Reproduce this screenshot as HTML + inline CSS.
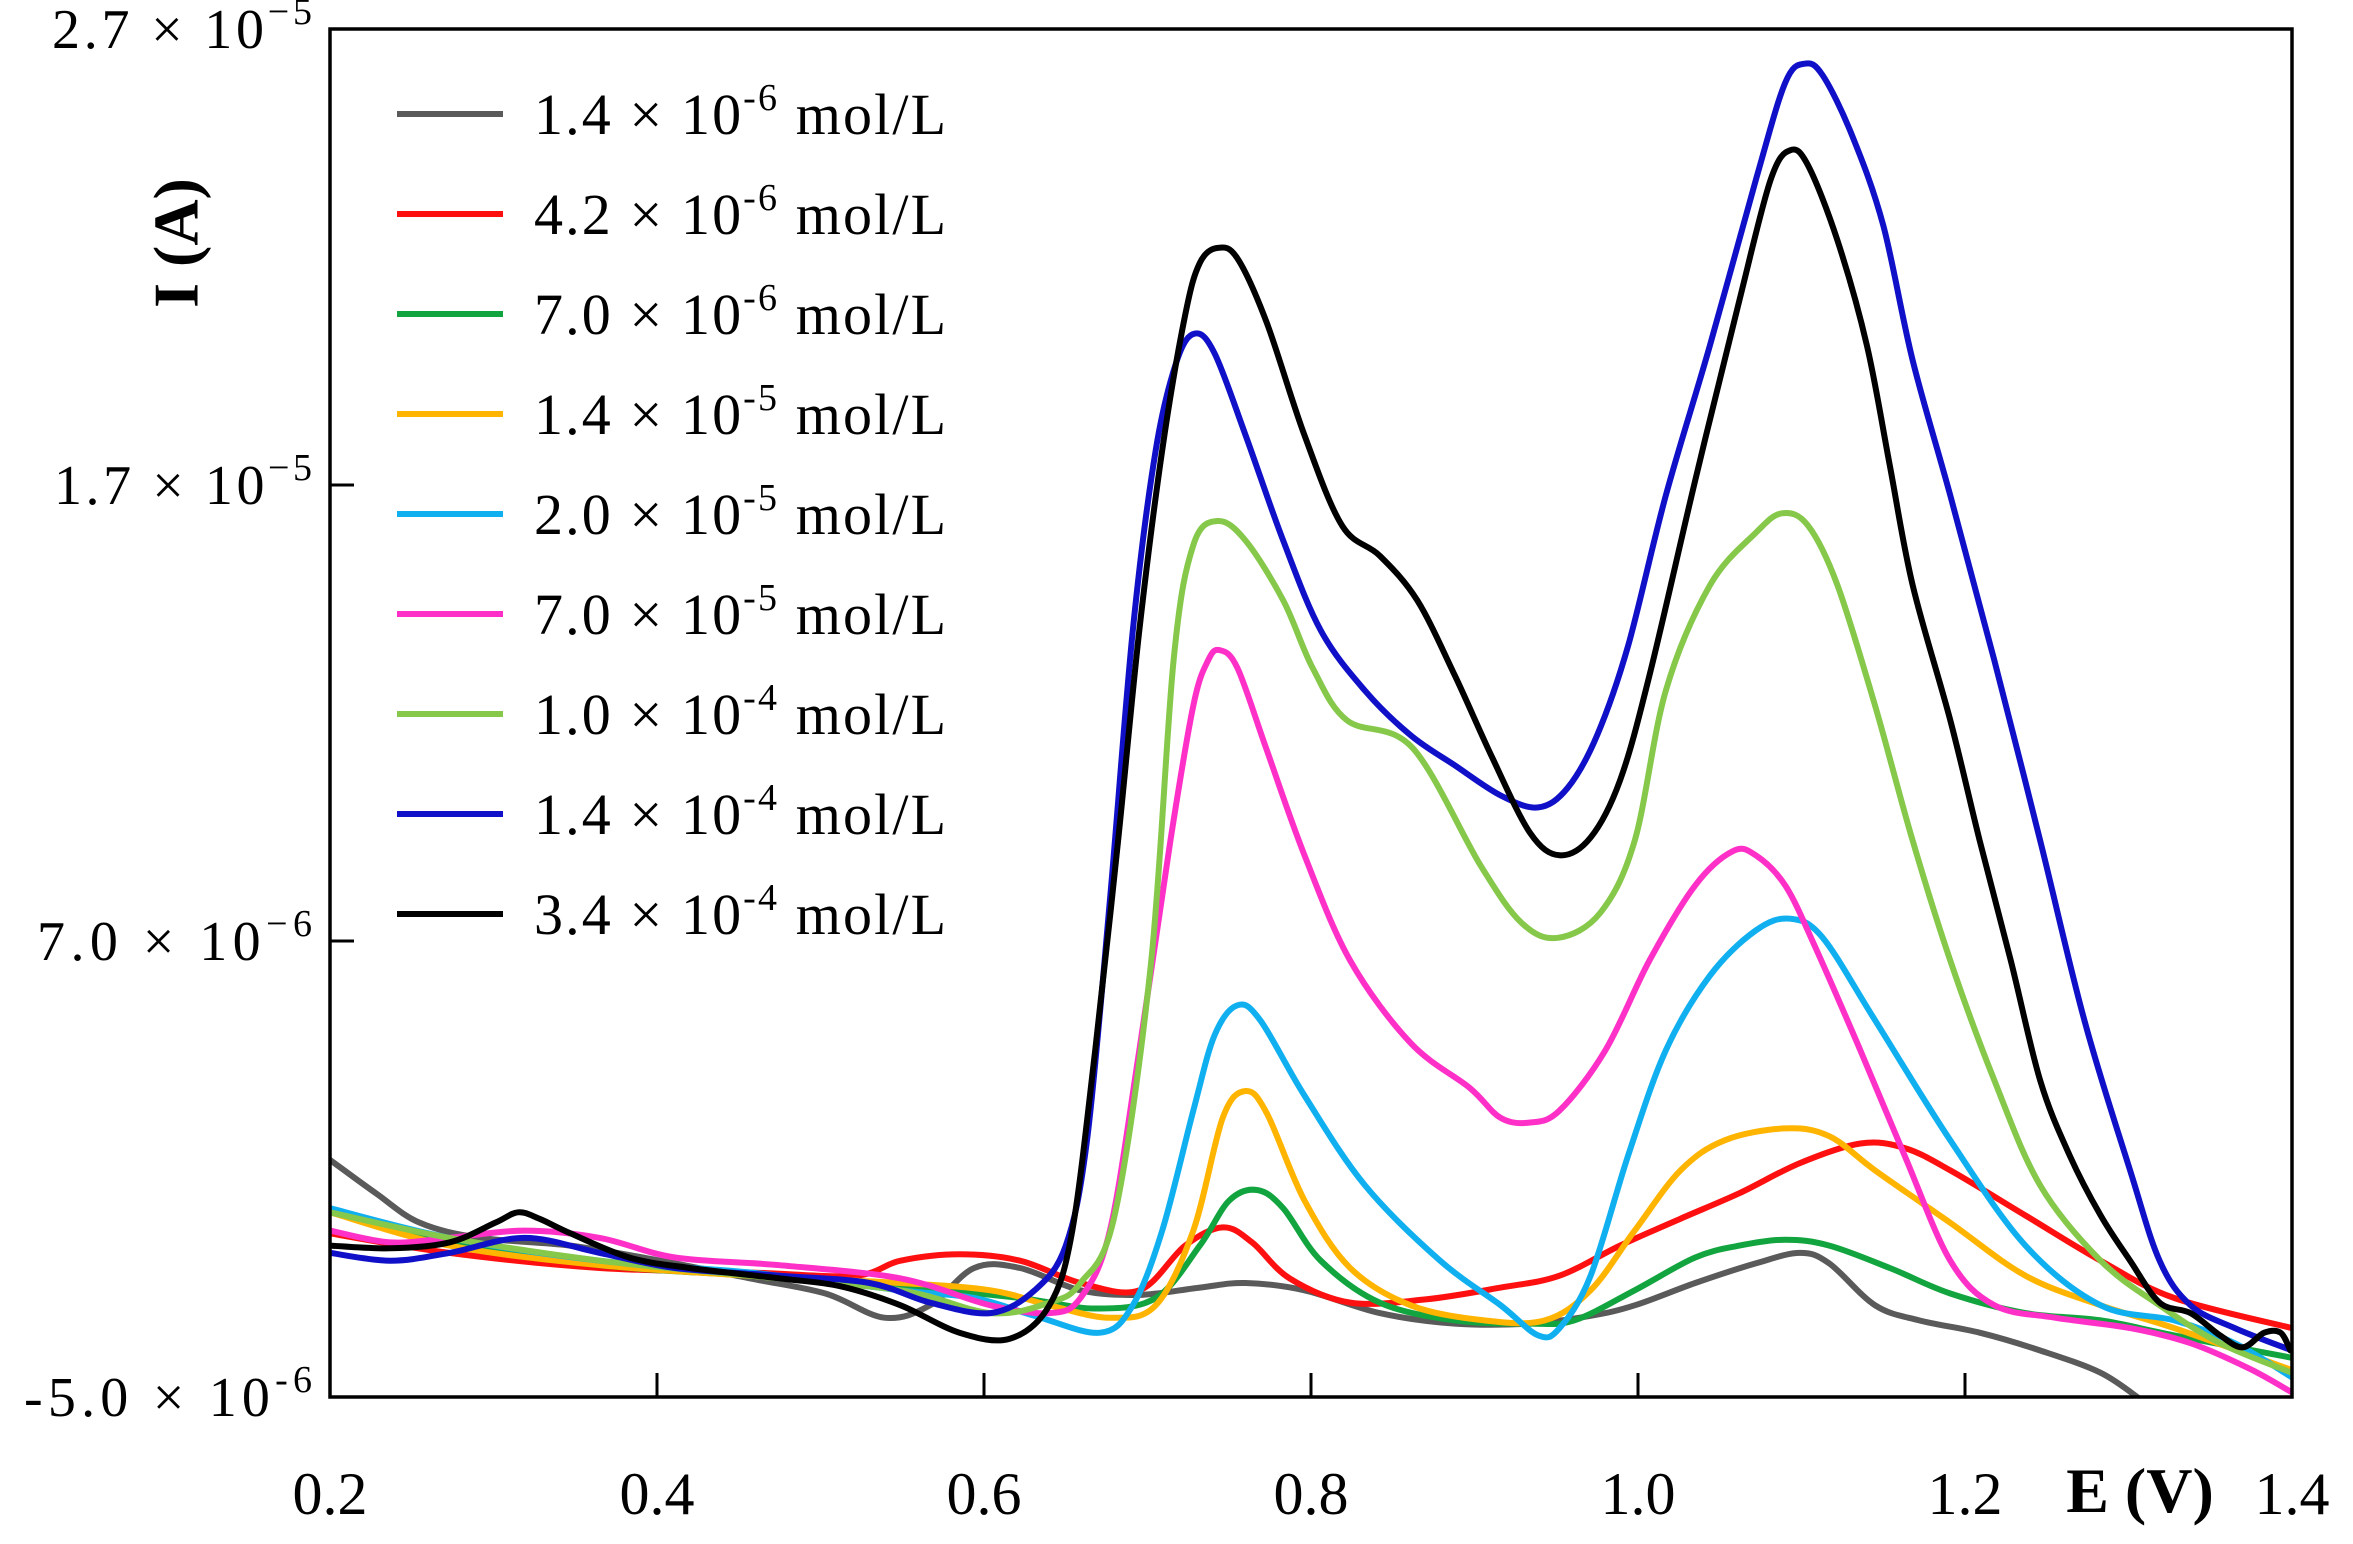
<!DOCTYPE html>
<html><head><meta charset="utf-8"><style>
html,body{margin:0;padding:0;background:#fff;}
svg{display:block;font-family:"Liberation Serif",serif;}
</style></head><body>
<svg id="chart" width="2353" height="1544" viewBox="0 0 2353 1544">
<defs><clipPath id="plotclip"><rect x="330" y="29" width="1962" height="1368"/></clipPath></defs>
<g id="series" clip-path="url(#plotclip)"></g>
<rect x="330" y="29" width="1962" height="1368" fill="none" stroke="#000" stroke-width="3.5"/>
<g id="axes"></g>
<text x="183" y="243" transform="rotate(-90 183 243)" text-anchor="middle" dominant-baseline="middle" font-size="64" font-weight="bold">I (A)</text>
<text x="2140" y="1512" text-anchor="middle" font-size="64" font-weight="bold">E (V)</text>
<g id="legend"></g>
</svg>
<script>
const xTicks = [0.2, 0.4, 0.6, 0.8, 1.0, 1.2, 1.4];
const xTickLabels = ["0.2", "0.4", "0.6", "0.8", "1.0", "1.2", "1.4"];
const yTicks = [27, 17, 7, -3];
const yTickMant = ["2.7", "1.7", "7.0", "-5.0"];
const yTickExp = ["\u22125", "\u22125", "\u22126", "-6"];
const seriesNames = ["1.4e-6", "4.2e-6", "7.0e-6", "1.4e-5", "2.0e-5", "7.0e-5", "1.0e-4", "1.4e-4", "3.4e-4"];
const legendMant = ["1.4", "4.2", "7.0", "1.4", "2.0", "7.0", "1.0", "1.4", "3.4"];
const legendExp = ["-6", "-6", "-6", "-5", "-5", "-5", "-4", "-4", "-4"];
const seriesColors = ["#5a5a5a", "#ff1010", "#12a43e", "#ffb400", "#10b0f0", "#ff30c8", "#86c84a", "#1010c8", "#000000"];

const grayE = [.200,.228,.255,.292,.347,.402,.457,.503,.539,.567,.594,.622,.659,.695,.732,.760,.796,.842,.888,.934,.971,.998,1.035,1.072,1.099,1.117,1.145,1.172,1.209,1.246,1.283,1.308];
const grayI = [2.20,1.47,0.82,0.49,0.32,-0.01,-0.40,-0.73,-1.26,-0.99,-0.17,-0.17,-0.66,-0.76,-0.60,-0.50,-0.66,-1.16,-1.39,-1.39,-1.22,-0.99,-0.50,-0.07,0.16,-0.07,-0.99,-1.32,-1.59,-1.98,-2.47,-3.07];
const redE = [.200,.273,.365,.457,.521,.549,.585,.622,.659,.695,.723,.746,.764,.787,.824,.870,.916,.952,.989,1.026,1.062,1.099,1.136,1.163,1.191,1.237,1.283,1.328,1.400];
const redI = [0.59,0.16,-0.17,-0.27,-0.34,-0.01,0.13,-0.01,-0.50,-0.66,0.32,0.72,0.39,-0.40,-0.93,-0.86,-0.60,-0.34,0.32,0.91,1.47,2.13,2.56,2.46,1.97,0.98,-0.01,-0.83,-1.49];
const dgreenE = [.200,.273,.365,.457,.549,.622,.668,.705,.732,.750,.767,.783,.806,.842,.888,.934,.961,.998,1.035,1.062,1.090,1.117,1.154,1.191,1.237,1.283,1.328,1.400];
const dgreenI = [1.05,0.39,-0.11,-0.34,-0.57,-0.83,-1.06,-0.83,0.32,1.31,1.54,1.14,-0.01,-0.93,-1.32,-1.39,-1.32,-0.66,0.06,0.32,0.45,0.32,-0.17,-0.73,-1.16,-1.32,-1.65,-2.14];
const orangeE = [.200,.273,.365,.457,.549,.604,.640,.677,.705,.728,.746,.760,.773,.796,.824,.861,.906,.943,.971,.998,1.026,1.053,1.090,1.117,1.145,1.191,1.237,1.283,1.328,1.400];
const orangeI = [1.05,0.32,-0.11,-0.34,-0.50,-0.66,-0.99,-1.26,-0.99,0.65,3.12,3.71,3.22,1.31,-0.17,-0.99,-1.32,-1.32,-0.66,0.65,1.97,2.63,2.89,2.72,1.97,0.82,-0.34,-0.99,-1.49,-2.41];
const skyE = [.200,.273,.365,.457,.549,.594,.631,.671,.691,.709,.728,.741,.755,.769,.796,.833,.879,.916,.939,.952,.971,.994,1.017,1.044,1.072,1.093,1.113,1.145,1.191,1.237,1.283,1.328,1.365,1.400];
const skyI = [1.14,0.49,-0.01,-0.27,-0.66,-0.83,-1.22,-1.59,-0.99,0.65,3.28,4.93,5.59,5.26,3.61,1.64,-0.01,-0.99,-1.65,-1.49,-0.34,2.30,4.60,6.24,7.23,7.49,7.07,5.26,2.63,0.32,-0.99,-1.32,-1.82,-2.57];
const magentaE = [.200,.237,.273,.319,.365,.411,.475,.549,.604,.640,.659,.677,.695,.714,.728,.737,.744,.755,.773,.796,.824,.861,.897,.916,.934,.952,.980,1.007,1.035,1.058,1.072,1.090,1.108,1.136,1.163,1.191,1.218,1.255,1.301,1.338,1.374,1.400];
const magentaI = [0.65,0.39,0.49,0.65,0.49,0.06,-0.11,-0.40,-0.99,-1.16,-0.83,0.65,4.60,9.20,12.16,13.15,13.38,12.99,11.18,8.88,6.57,4.76,3.78,3.12,3.02,3.28,4.60,6.57,8.22,8.97,8.88,8.22,6.90,4.60,2.30,-0.01,-0.99,-1.26,-1.49,-1.82,-2.38,-2.90];
const lgreenE = [.200,.273,.365,.457,.549,.604,.640,.659,.680,.702,.716,.728,.743,.760,.783,.801,.822,.862,.904,.929,.951,.977,.998,1.017,1.044,1.072,1.088,1.104,1.122,1.145,1.168,1.191,1.218,1.246,1.283,1.319,1.356,1.400];
const lgreenI = [1.05,0.49,-0.01,-0.34,-0.66,-1.16,-0.93,-0.50,1.00,6.47,13.18,15.68,16.21,15.78,14.47,12.99,11.84,11.24,8.64,7.39,7.07,7.62,9.20,12.49,14.80,15.95,16.38,16.11,14.80,12.16,9.20,6.57,3.94,1.64,-0.01,-0.99,-1.82,-2.47];
const blueE = [.200,.237,.273,.319,.365,.411,.475,.530,.567,.604,.631,.650,.663,.677,.691,.705,.718,.729,.741,.760,.783,.806,.833,.861,.888,.916,.939,.957,.975,.994,1.017,1.044,1.072,1.090,1.102,1.113,1.131,1.150,1.168,1.191,1.218,1.246,1.273,1.301,1.319,1.338,1.365,1.400];
const blueI = [0.16,-0.01,0.16,0.49,0.16,-0.17,-0.34,-0.50,-0.93,-1.16,-0.66,0.32,2.63,7.89,13.81,17.76,19.73,20.32,19.89,18.09,15.78,13.81,12.49,11.51,10.85,10.19,9.93,10.36,11.51,13.48,16.77,20.06,23.68,25.82,26.24,25.98,24.66,22.69,19.73,16.77,13.15,9.20,5.26,1.97,-0.01,-0.99,-1.49,-1.98];
const blackE = [.200,.237,.273,.301,.315,.328,.347,.383,.420,.475,.512,.549,.585,.616,.640,.654,.668,.682,.695,.709,.723,.732,.743,.755,.773,.796,.819,.842,.865,.888,.911,.934,.952,.971,.989,1.007,1.035,1.062,1.081,1.093,1.104,1.122,1.140,1.154,1.168,1.191,1.209,1.228,1.246,1.264,1.283,1.301,1.319,1.338,1.356,1.370,1.383,1.393,1.399];
const blackI = [0.32,0.26,0.39,0.82,1.05,0.91,0.59,0.06,-0.17,-0.40,-0.57,-0.99,-1.59,-1.72,-0.99,0.65,4.60,9.20,13.81,17.76,20.72,21.87,22.20,21.97,20.55,18.09,16.11,15.45,14.47,12.82,11.01,9.37,8.88,9.27,10.52,12.82,17.10,21.05,23.68,24.34,24.01,22.36,20.06,17.43,14.80,11.84,9.20,6.57,3.94,2.30,0.98,-0.01,-0.93,-1.16,-1.65,-1.91,-1.59,-1.59,-1.98];

const allE = [grayE, redE, dgreenE, orangeE, skyE, magentaE, lgreenE, blueE, blackE];
const allI = [grayI, redI, dgreenI, orangeI, skyI, magentaI, lgreenI, blueI, blackI];

const X0 = 330, X1 = 2292, Y0 = 29, Y1 = 1397;
const xMin = 0.2, xMax = 1.4, yMax = 27, yMin = -3;
function xs(v) { return X0 + (v - xMin) / (xMax - xMin) * (X1 - X0); }
function ys(v) { return Y0 + (yMax - v) / (yMax - yMin) * (Y1 - Y0); }
const NS = "http://www.w3.org/2000/svg";
function mk(tag, attrs) { const e = document.createElementNS(NS, tag); for (const k in attrs) e.setAttribute(k, attrs[k]); return e; }
function smoothPath(pts) {
  let d = "M" + pts[0][0].toFixed(1) + "," + pts[0][1].toFixed(1);
  for (let i = 0; i < pts.length - 1; i++) {
    const p0 = pts[Math.max(0, i - 1)], p1 = pts[i], p2 = pts[i + 1], p3 = pts[Math.min(pts.length - 1, i + 2)];
    const c1x = p1[0] + (p2[0] - p0[0]) / 6, c1y = p1[1] + (p2[1] - p0[1]) / 6;
    const c2x = p2[0] - (p3[0] - p1[0]) / 6, c2y = p2[1] - (p3[1] - p1[1]) / 6;
    d += " C" + c1x.toFixed(1) + "," + c1y.toFixed(1) + " " + c2x.toFixed(1) + "," + c2y.toFixed(1) + " " + p2[0].toFixed(1) + "," + p2[1].toFixed(1);
  }
  return d;
}
const sg = document.getElementById("series");
for (let s = 0; s < allE.length; s++) {
  const pts = allE[s].map((e, i) => [xs(e), ys(allI[s][i])]);
  const p = mk("path", { d: smoothPath(pts), fill: "none", stroke: seriesColors[s], "stroke-width": 6, "stroke-linejoin": "round", "stroke-linecap": "round" });
  
  
  sg.appendChild(p);
}
const ax = document.getElementById("axes");
for (let i = 0; i < xTicks.length; i++) {
  const x = xs(xTicks[i]);
  if (i > 0 && i < xTicks.length - 1) {
    const t = mk("line", { x1: x, x2: x, y1: Y1, y2: Y1 - 24, stroke: "#000", "stroke-width": 3 });
    
    
    ax.appendChild(t);
  }
  const lb = mk("text", { x: x, y: 1514, "text-anchor": "middle", "font-size": 60 });
  lb.textContent = xTickLabels[i];
  
  
  ax.appendChild(lb);
}
const yLabelWidths = [260, 258, 275, 288];
for (let i = 0; i < yTicks.length; i++) {
  const y = ys(yTicks[i]);
  if (i === 1 || i === 2) {
    const t = mk("line", { x1: X0, x2: X0 + 24, y1: y, y2: y, stroke: "#000", "stroke-width": 3 });
    
    
    ax.appendChild(t);
  }
  const lb = mk("text", { x: 312 - yLabelWidths[i], y: y + 19, "font-size": 56, textLength: yLabelWidths[i], lengthAdjust: "spacing" });
  
  
  const a = mk("tspan", {}); a.textContent = yTickMant[i] + " \u00d7 10";
  const b = mk("tspan", { dy: -24, "font-size": 38 }); b.textContent = yTickExp[i];
  lb.appendChild(a); lb.appendChild(b);
  ax.appendChild(lb);
}
const lg = document.getElementById("legend");
for (let i = 0; i < legendMant.length; i++) {
  const y = 114 + i * 100;
  const l = mk("line", { x1: 397, x2: 503, y1: y, y2: y, stroke: seriesColors[i], "stroke-width": 6 });
  
  
  lg.appendChild(l);
  const t = mk("text", { x: 534, y: y + 20, "font-size": 58, textLength: 412, lengthAdjust: "spacing" });
  
  
  const a = mk("tspan", {}); a.textContent = legendMant[i] + " \u00d7 10";
  const b = mk("tspan", { dy: -24, "font-size": 38 }); b.textContent = legendExp[i];
  const c = mk("tspan", { dy: 24 }); c.textContent = " mol/L";
  t.appendChild(a); t.appendChild(b); t.appendChild(c);
  lg.appendChild(t);
}
</script>
</body></html>
